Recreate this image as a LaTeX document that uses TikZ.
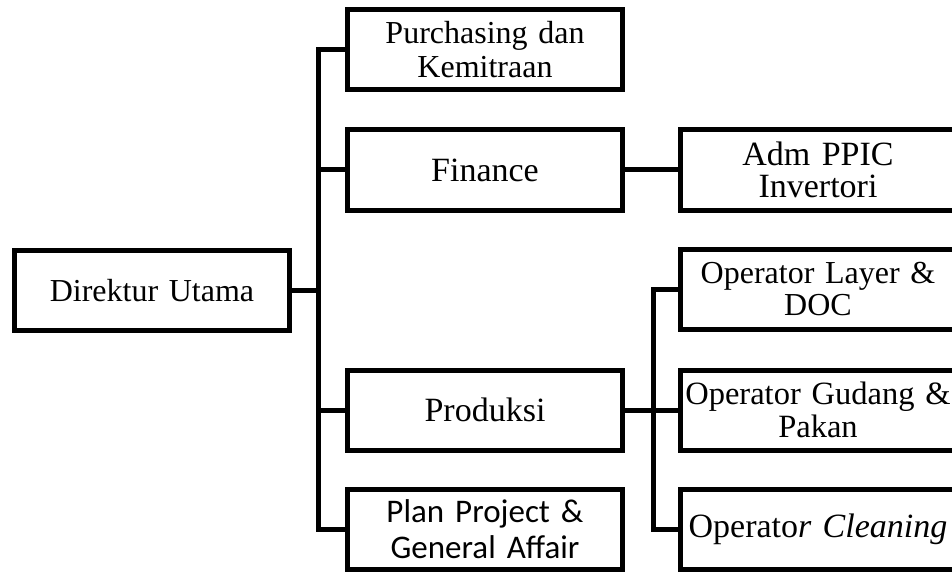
\documentclass[tikz,border=0pt]{standalone}
\usepackage{fontspec}
\setmainfont{Liberation Serif}
\newfontfamily\calibri{Carlito}
\usetikzlibrary{positioning}

\tikzset{
  unit/.style={draw, line width=5pt, inner sep=0pt, minimum width=275pt,
    minimum height=80pt, text width=268pt, align=center,
    font=\fontsize{32}{32}\selectfont},
  big/.style={font=\fontsize{34}{32}\selectfont},
  link/.style={line width=5pt}
}

\begin{document}
\begin{tikzpicture}[x=1pt, y=-1pt]
  \useasboundingbox (0,0) rectangle (952,572);
  \begin{scope}
  \clip (0,0) rectangle (952,572);

  % kolom kiri
  \node[unit] (dir) at (152,290.5) {Direktur Utama};

  % kolom tengah
  \node[unit, font=\fontsize{32}{34}\selectfont] (purch) at (485,50)
    {Purchasing dan\\Kemitraan};
  \node[unit, big] (fin) at (485,170) {Finance};
  \node[unit, big] (prod) at (485,410) {Produksi};
  \node[unit, font=\calibri\fontsize{33}{36}\selectfont] (plan) at (485,529.5)
    {Plan Project \&\\General Affair};

  % kolom kanan
  \node[unit, big] (adm) at (818,170) {Adm PPIC\\Invertori};
  \node[unit] (layer) at (818,289) {Operator Layer \&\\DOC};
  \node[unit, font=\fontsize{32.5}{33}\selectfont] (gudang) at (818,410)
    {Operator Gudang \&\\Pakan};
  \node[unit, big] (clean) at (818,529.5) {Operato\textit{r Cleaning}};

  \coordinate (trunk) at (318.5,0);
  \coordinate (sub) at (653,0);

  \draw[link] (dir.east) -- (dir.east -| trunk);
  \draw[link] (purch.west) -- (purch.west -| trunk) |- (plan.west);
  \draw[link] (fin.west) -- (fin.west -| trunk);
  \draw[link] (prod.west) -- (prod.west -| trunk);

  \draw[link] (fin.east) -- (adm.west);
  \draw[link] (prod.east) -- (gudang.west);
  \draw[link] (layer.west) -- (layer.west -| sub) |- (clean.west);
  \end{scope}
\end{tikzpicture}
\end{document}
